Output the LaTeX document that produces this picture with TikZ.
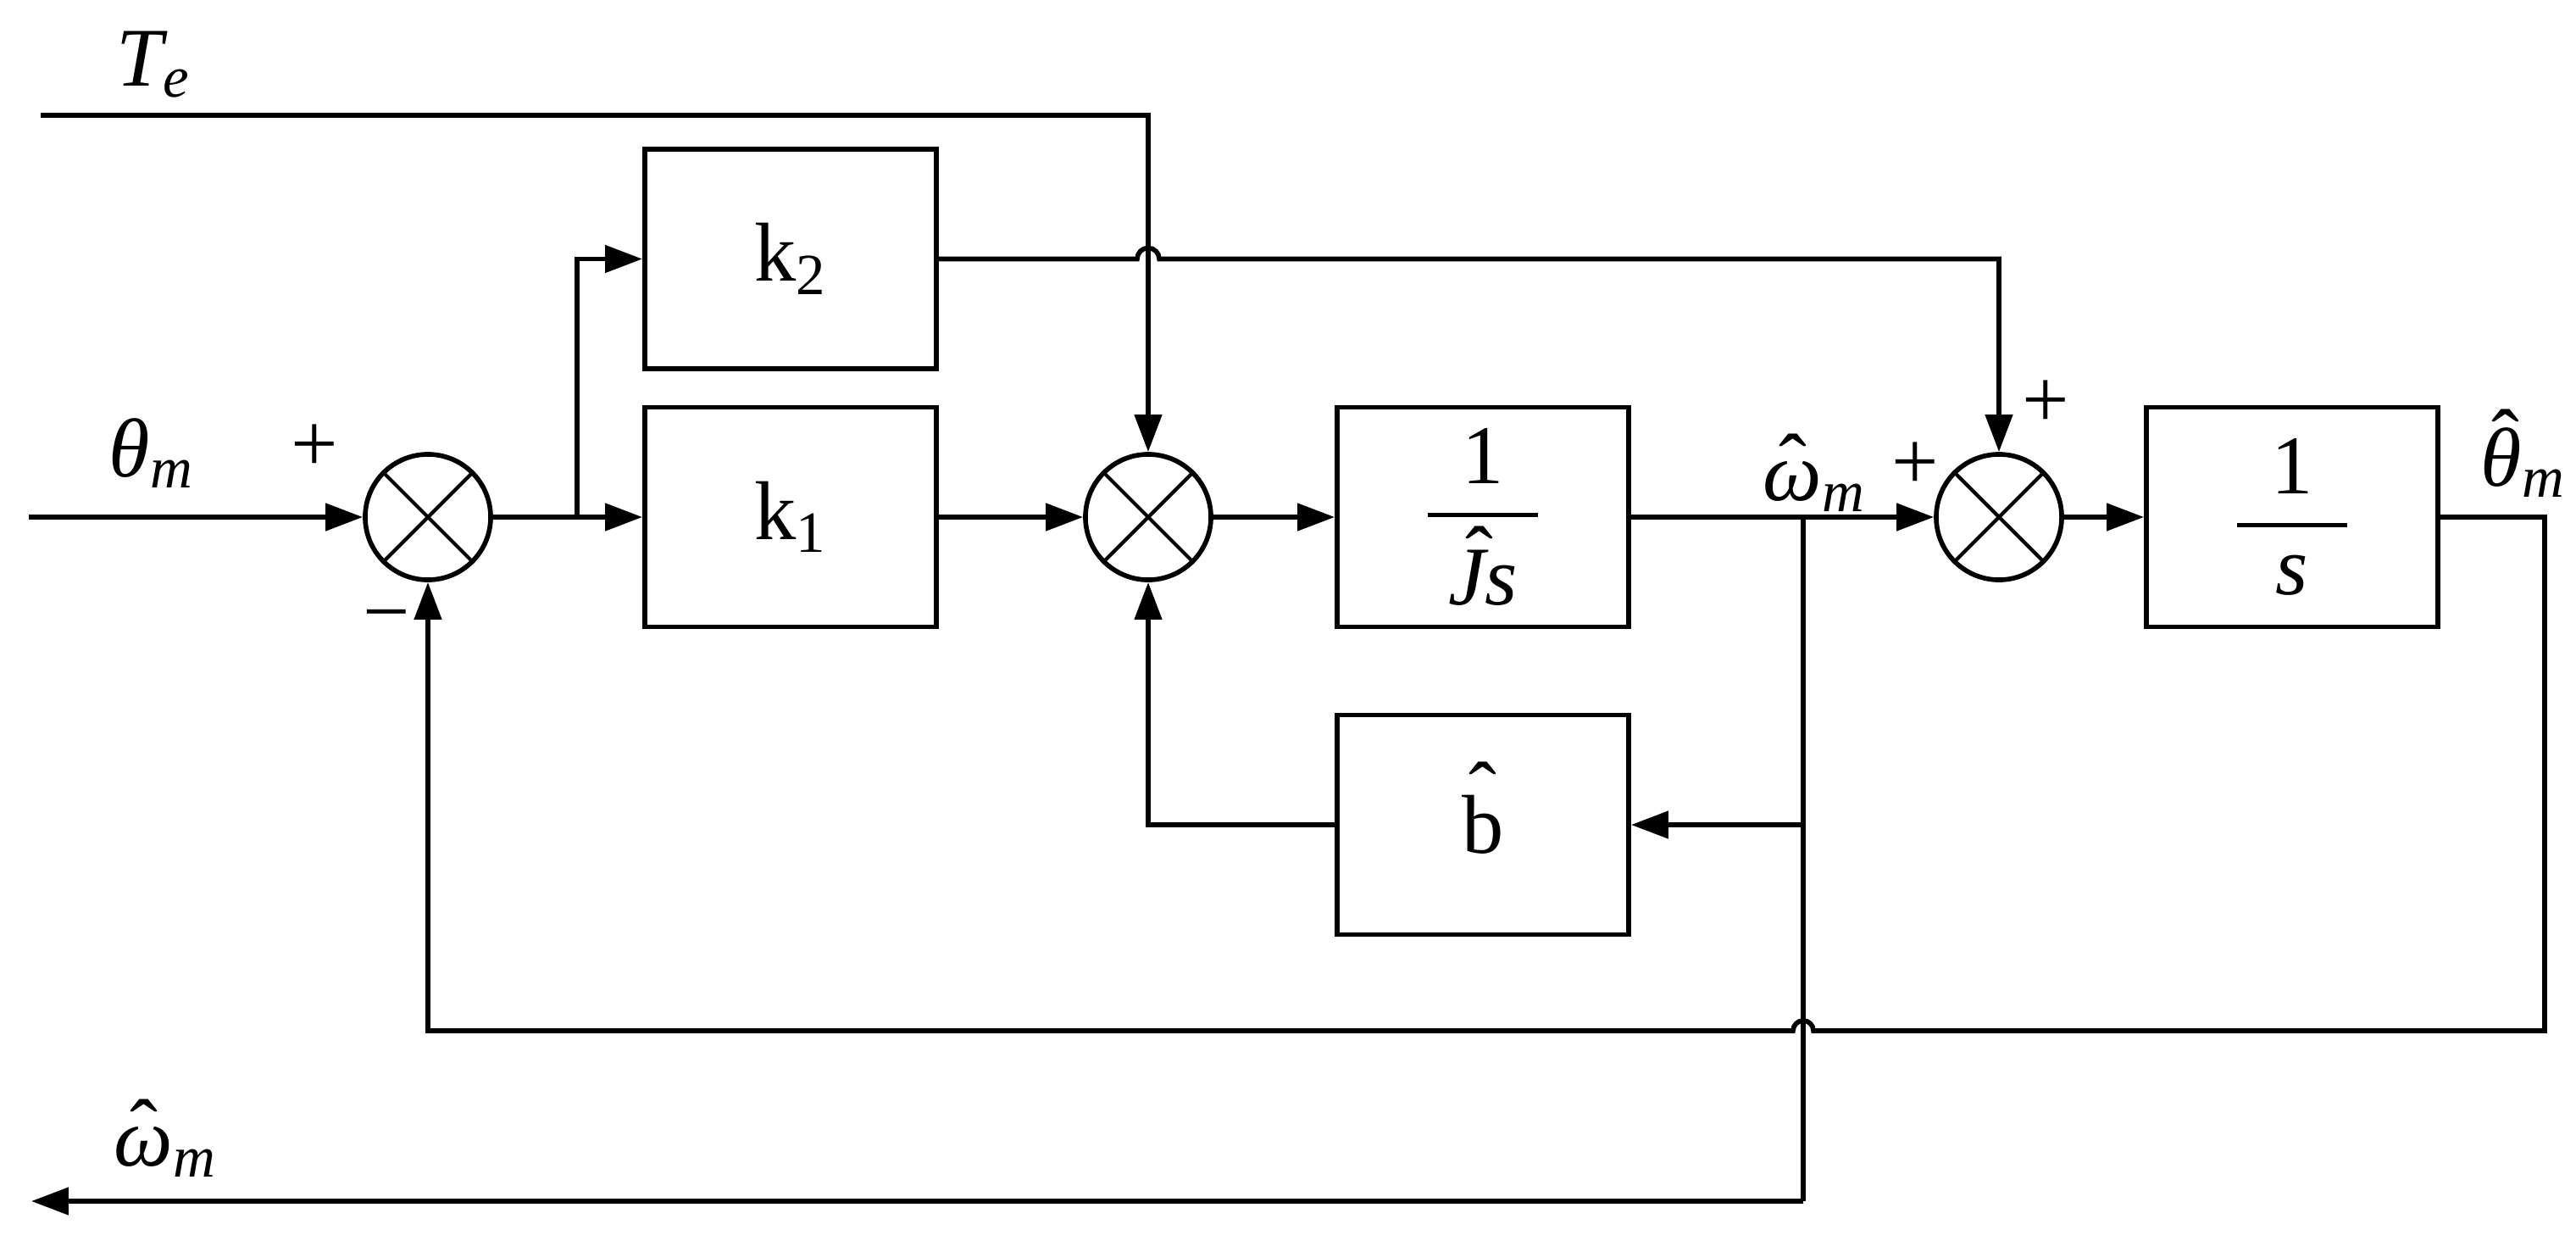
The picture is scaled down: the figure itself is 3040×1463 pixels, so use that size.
\documentclass[tikz,border=0pt]{standalone}
\usepackage{amsmath}
\usepackage{fontspec}
\setmainfont{Liberation Serif}
\usetikzlibrary{arrows.meta,calc}
\newcommand\myfr[2]{\ensuremath{\genfrac{}{}{1.3pt}{0}{#1}{\makebox[1.3cm]{$#2$}}}}
% \hatx{raise}{xshift}{content}
\newcommand\hatx[3]{{\setbox0\hbox{$#3$}\rlap{\smash{\hbox to \wd0{\hss\hspace*{#2}\raisebox{#1}{ˆ}\hss}}}\box0}}
\begin{document}
\begin{tikzpicture}[x=0.01cm,y=-0.01cm, line width=1.6pt,
  every node/.style={font=\fontsize{28}{34}\selectfont},
  blk/.style={draw, line width=1.6pt, minimum width=3.44cm, minimum height=2.59cm, inner sep=0},
  sumj/.style={draw, circle, line width=1.6pt, minimum size=1.48cm, inner sep=0},
  arr/.style={-{Triangle[length=12.5pt,width=9pt]}},
  xline/.style={line width=1.2pt},
  lbl/.style={inner sep=0, anchor=base west},
  sgn/.style={inner sep=0},
]
\useasboundingbox (0,0) rectangle (3040,1463);

% blocks
\node[blk] (k2) at (933,305.5) {$\text{k}_{\text{2}}$};
\node[blk] (k1) at (933,610) {$\text{k}_{\text{1}}$};
\node[blk] (J) at (1750,610) {\myfr{\text{1}}{\rule{0pt}{0.92em}\hatx{0.25em}{0.3em}{\textit{J}}\textit{s}}};
\node[blk] (b) at (1750,973) {$\hatx{0.4em}{0pt}{\text{b}}$};
\node[blk] (s) at (2705,610) {\myfr{\text{1}}{\textit{s}}};

% summing junctions
\node[sumj] (s1) at (505,610) {};
\node[sumj] (s2) at (1355,610) {};
\node[sumj] (s3) at (2359,610) {};
\foreach \n in {s1,s2,s3}{
  \draw[xline] (\n.45) -- (\n.225);
  \draw[xline] (\n.135) -- (\n.-45);
}

% coordinates
\coordinate (in) at (34,610);
\coordinate (te) at (48,136);
\coordinate (br1) at (681,610);
\coordinate (br2) at (2128,610);
\coordinate (bot) at (2128,1417);
\coordinate (out) at (37,1417);
\coordinate (fb) at (3003,1216);

% connectors
\draw[arr] (in) -- (s1.west);
\draw (s1.east) -- (br1);
\draw[arr] (br1) -- (k1.west);
\draw[arr] (br1) |- (k2.west);
\draw[arr] (k1.east) -- (s2.west);
\draw[arr] (te) -| (s2.north);
\draw[arr] (k2.east) -- ($(s2.north |- k2.east)+(-13,0)$)
   arc[start angle=180, end angle=0, radius=0.13cm] -| (s3.north);
\draw[arr] (s2.east) -- (J.west);
\draw (J.east) -- (br2);
\draw[arr] (br2) -- (s3.west);
\draw (br2) -- (bot);
\draw[arr] (bot) -- (out);
\draw[arr] (br2 |- b.east) -- (b.east);
\draw[arr] (b.west) -| (s2.south);
\draw[arr] (s3.east) -- (s.west);
\draw[arr] (s.east) -- (s.east -| fb) -- (fb) -- ($(br2 |- fb)+(12,0)$)
   arc[start angle=0, end angle=180, radius=0.12cm] -| (s1.south);

% labels
\node[lbl] (lTe) at (135,101) {$\textit{T}_{\textit{e}}$};
\node[lbl] (lth) at (126,562) {$\textit{θ}_{\textit{m}}$};
\node[lbl] (lw) at (2078,590) {$\hatx{0.1em}{0pt}{\textit{ω}}_{\textit{m}}$};
\node[lbl] (lthh) at (2925,573) {$\hatx{0.22em}{0.1em}{\textit{θ}}_{\textit{m}}$};
\node[lbl] (lwb) at (132,1375) {$\hatx{0.1em}{0pt}{\textit{ω}}_{\textit{m}}$};
\node[sgn] (p1) at (371,529) {+};
\node[sgn] (m1) at (456,737) {−};
\node[sgn] (p2) at (2414,477) {+};
\node[sgn] (p3) at (2260,550) {+};
\end{tikzpicture}
\end{document}
